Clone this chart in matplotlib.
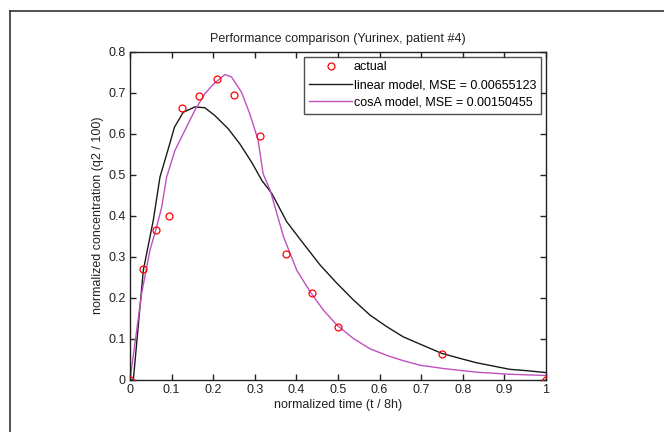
import matplotlib
matplotlib.use("Agg")
import matplotlib.pyplot as plt
from matplotlib.lines import Line2D

plt.rcParams['font.family'] = ['Liberation Sans', 'DejaVu Sans']

# Measured samples (normalized time, normalized concentration)
t_actual = [0, 0.03125, 0.0625, 0.09375, 0.125, 0.1667, 0.2083, 0.25,
            0.3125, 0.375, 0.4375, 0.5, 0.75, 1.0]
c_actual = [0.0, 0.27, 0.365, 0.399, 0.663, 0.692, 0.733, 0.693,
            0.594, 0.306, 0.212, 0.13, 0.063, 0.0]

# Linear model prediction
t_linear = [0.0, 0.008, 0.032, 0.056, 0.072, 0.092, 0.107, 0.128, 0.156,
            0.18, 0.204, 0.236, 0.264, 0.292, 0.317, 0.341, 0.377, 0.417,
            0.457, 0.497, 0.537, 0.577, 0.617, 0.657, 0.697, 0.749, 0.793,
            0.833, 0.873, 0.913, 0.954, 1.0]
c_linear = [0.0, 0.0, 0.267, 0.389, 0.494, 0.563, 0.616, 0.652, 0.665,
            0.663, 0.644, 0.612, 0.575, 0.531, 0.486, 0.454, 0.385, 0.332,
            0.28, 0.236, 0.195, 0.158, 0.13, 0.105, 0.0875, 0.065, 0.0527,
            0.042, 0.034, 0.026, 0.0227, 0.018]

# cosA model prediction
t_cosa = [0.0, 0.028, 0.048, 0.064, 0.076, 0.088, 0.108, 0.132, 0.156,
          0.18, 0.2, 0.228, 0.244, 0.268, 0.288, 0.308, 0.32, 0.337, 0.369,
          0.401, 0.433, 0.465, 0.497, 0.537, 0.577, 0.617, 0.657, 0.697,
          0.753, 0.833, 0.913, 1.0]
c_cosa = [0.0, 0.211, 0.316, 0.373, 0.42, 0.494, 0.559, 0.608, 0.657,
          0.697, 0.72, 0.744, 0.738, 0.701, 0.648, 0.584, 0.502, 0.462,
          0.349, 0.267, 0.215, 0.17, 0.134, 0.101, 0.076, 0.06, 0.047,
          0.036, 0.028, 0.019, 0.014, 0.011]

x_ticks = [0, 0.1, 0.2, 0.3, 0.4, 0.5, 0.6, 0.7, 0.8, 0.9, 1]
x_tick_labels = ['0', '0.1', '0.2', '0.3', '0.4', '0.5', '0.6', '0.7', '0.8', '0.9', '1']
y_ticks = [0, 0.1, 0.2, 0.3, 0.4, 0.5, 0.6, 0.7, 0.8]
y_tick_labels = ['0', '0.1', '0.2', '0.3', '0.4', '0.5', '0.6', '0.7', '0.8']

FS = 9
TXT = '#222222'

fig = plt.figure(figsize=(6.64, 4.32), dpi=100)
fig.patch.set_facecolor('white')

W, H = 664, 432
ax = fig.add_axes([130 / W, 1 - 380 / H, 416 / W, (380 - 51.5) / H])

ax.plot(t_actual, c_actual, linestyle='none', marker='o', markersize=5,
        markerfacecolor='none', markeredgecolor='#ff0000', markeredgewidth=0.9,
        label='actual', zorder=3)
ax.plot(t_linear, c_linear, color='#1a1a1a', linewidth=1.0,
        label='linear model, MSE = 0.00655123')
ax.plot(t_cosa, c_cosa, color='#c050c0', linewidth=1.0,
        label='cosA model, MSE = 0.00150455')

ax.set_xlim(0, 1)
ax.set_ylim(0, 0.8)
ax.set_xticks(x_ticks)
ax.set_xticklabels(x_tick_labels)
ax.set_yticks(y_ticks)
ax.set_yticklabels(y_tick_labels)
ax.tick_params(direction='in', top=True, right=True, length=4, width=1,
               labelsize=FS, pad=3, colors=TXT, labelcolor=TXT)
for s in ax.spines.values():
    s.set_linewidth(1.0)
    s.set_color(TXT)

ax.set_title('Performance comparison (Yurinex, patient #4)', fontsize=FS,
             color=TXT, pad=7)
ax.set_xlabel('normalized time (t / 8h)', fontsize=FS, color=TXT, labelpad=2)
ax.set_ylabel('normalized concentration (q2 / 100)', fontsize=FS,
              color=TXT, labelpad=3)

leg = ax.legend(loc='upper right', fontsize=FS, frameon=True, fancybox=False,
                borderaxespad=0.4, handlelength=3.4, handletextpad=0.15,
                labelspacing=0.45, borderpad=0.4)
leg.get_frame().set_edgecolor(TXT)
leg.get_frame().set_linewidth(1.0)

# Outer frame lines
fig.add_artist(Line2D([10 / W, 10 / W], [0, 1 - 10.5 / H], transform=fig.transFigure,
                      color='#333333', linewidth=1.2))
fig.add_artist(Line2D([10 / W, 1], [1 - 10.5 / H, 1 - 10.5 / H], transform=fig.transFigure,
                      color='#333333', linewidth=1.2))

fig.savefig('out.png', dpi=100)
